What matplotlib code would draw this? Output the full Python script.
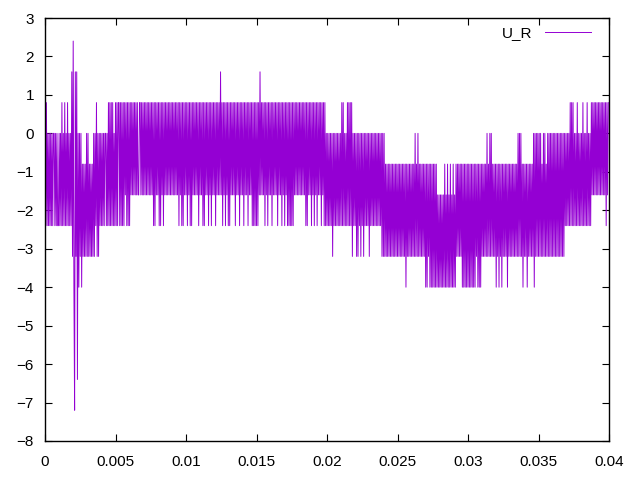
import numpy as np
import matplotlib.pyplot as plt

plt.rcParams['font.family'] = ['Liberation Sans', 'DejaVu Sans']

# sample values, coded as letters, one string per 2 ms window
LEVEL = {'a': -7.2, 'b': -6.4, 'e': -4.0, 'f': -3.2, 'g': -2.4, 'h': -1.6,
         'i': -0.8, 'j': 0.0, 'k': 0.8, 'l': 1.6, 'm': 2.4}
WINDOW = 0.002

samples = [
    "kg kg jg jg jg jg jj gj gj gg jg jg kg jg kg jg kg jg jg lf",
    "me al fl bj ej fj ei fi fi fj fj fi fi fi fj fj gk fj fj gj",
    "gj gj gj jg jg kg kg kg kg jg kg kg kk gk gk gk gk hk gk gk",
    "gk hk hk hk hk hk hh kk hk hk hk hk hk hk hk hk hk gk gk hk",
    "hk gk gk hk gk hk hk hk hk hk hk hk hk hk hk gk hk gk gk hk",
    "hk gk hk gk gk hk hk hk hk gk hk hk gk gk hk hk gk hk gk hk",
    "hk gk hk hk hl hk gk hk gk hk gk gk hk hk hk gk hk hk gk hk",
    "hk gk hk hk gk hk hk gk gk gk gk gk hl hk hk hk gk hk gk hk",
    "hk gk hk hk hk gk hk hk gk hk gk hk gk gk gk gk gk hk hk hk",
    "hk hk hk hk hk gk gk hk hk gk hk gk hk gk hk hk gk hk gk gj",
    "gj gj gj gj fj gj gj gj gj gj gk gk gj gj gk gk gk gk fj gj",
    "gj fj fj gj fj gj fj gj gj gj fj gj gj gj gj gj gj gj gj fj",
    "fj fi fi fi fi fi fi fi fi fi fi fi fi fi fi fi ei fi fi fi",
    "fi fi fj fi fj fi fi fi fi fi ei ei fi ei ei ei ei ei eh eh",
    "eh eh eh ei eh ei eh ei eh ei eh ei fi fi fi fi ei ei ei ei",
    "ei ei ei ei ei ei fi ei ei ei fi fi fi fj fi fj fj fi fi fi",
    "ei fi ei fi ei fi fi fi ei fi fi fi fi fi fi fj fj fj fi ei",
    "fi fi ei fi fi fi fj ej fj fj fj fj fi fj fj fi fj fj fj fj",
    "fj fj fj fj fj fj fj fj fj gj gj gj gk gk gk gj gj gk gj gj",
    "gj gk gj gj gk gj gj gk hk hk hk hk hk hk hk hk hk hk gk hk",
]

t_all = []
u_all = []
for w, s in enumerate(samples):
    codes = s.replace(' ', '')
    n = len(codes)
    t_all.extend(w * WINDOW + np.arange(n) * WINDOW / n)
    u_all.extend(LEVEL[c] for c in codes)

fig = plt.figure(figsize=(6.4, 4.8), dpi=100)
ax = fig.add_axes([45/640, 39/480, 564/640, 423/480])
ax.plot(t_all, u_all, c='#9400D3', lw=0.7, label='U_R')

ax.set_xlim(0, 0.04)
ax.set_ylim(-8, 3)
ax.set_xticks(np.arange(0, 0.0401, 0.005))
ax.set_xticklabels(['0', '0.005', '0.01', '0.015', '0.02', '0.025', '0.03', '0.035', '0.04'])
ax.set_yticks(range(-8, 4))
ax.tick_params(direction='in', length=5, top=True, right=True, labelsize=11)
ax.tick_params(axis='x', pad=10)
ax.tick_params(axis='y', pad=8)
for sp in ax.spines.values():
    sp.set_linewidth(1)

ax.legend(loc='upper right', frameon=False, markerfirst=False, fontsize=11,
          handlelength=3.0, handletextpad=0.8, borderaxespad=0,
          bbox_to_anchor=(1 - 12/564, 1 - 2/423))

fig.savefig('out.png')
